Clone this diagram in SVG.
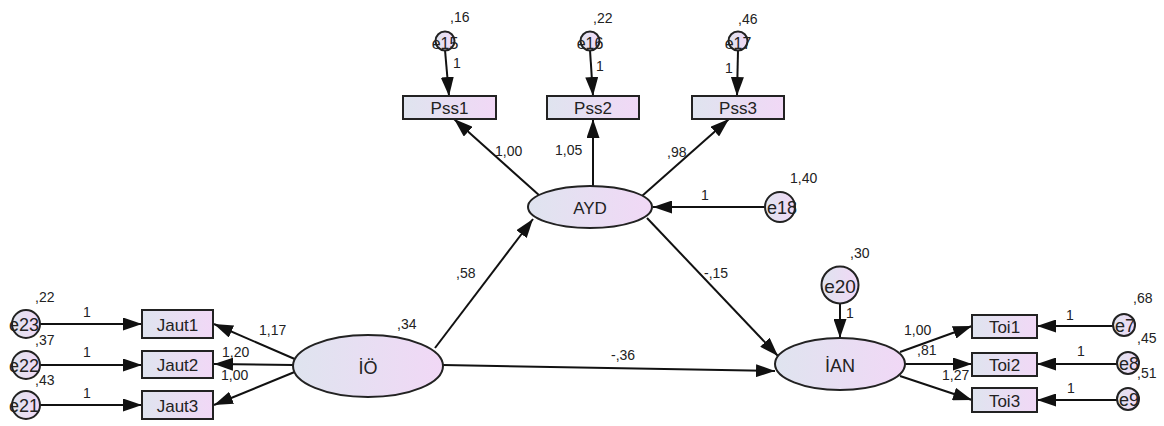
<svg xmlns="http://www.w3.org/2000/svg" width="1164" height="426" viewBox="0 0 1164 426">
<defs>
<linearGradient id="g" x1="0" y1="0" x2="1" y2="0">
<stop offset="0" stop-color="#dfe4ef"/>
<stop offset="1" stop-color="#f1d8f6"/>
</linearGradient>
<marker id="ah" markerUnits="userSpaceOnUse" markerWidth="19" markerHeight="13" refX="19" refY="6.5" orient="auto">
<path d="M0,0 L19,6.5 L0,13 z" fill="#111"/>
</marker>
</defs>
<style>
.n{fill:url(#g);stroke:#222;stroke-width:2}
.t{font-family:"Liberation Sans",Arial,sans-serif;font-size:17px;fill:#222;text-anchor:middle;dominant-baseline:central}
.et{font-family:"Liberation Sans",Arial,sans-serif;font-size:18px;fill:#222;text-anchor:middle;dominant-baseline:central}
.l{font-family:"Liberation Sans",Arial,sans-serif;font-size:14px;fill:#222}
.c line{stroke:#111;stroke-width:2;marker-end:url(#ah)}
</style>
<rect width="1164" height="426" fill="#fff"/>
<g class="c" id="connectors">
<line x1="445" y1="50" x2="449" y2="96"/>
<line x1="590" y1="50" x2="593" y2="96"/>
<line x1="738" y1="50" x2="737" y2="96"/>
<line x1="540" y1="196" x2="454" y2="119"/>
<line x1="593" y1="186" x2="593" y2="119"/>
<line x1="642" y1="196" x2="729" y2="119"/>
<line x1="765" y1="207" x2="653" y2="207"/>
<line x1="435" y1="348" x2="533" y2="219"/>
<line x1="647" y1="218" x2="778" y2="356"/>
<line x1="443" y1="365" x2="775" y2="371"/>
<line x1="840" y1="304" x2="840" y2="338"/>
<line x1="297" y1="360" x2="214" y2="324"/>
<line x1="293" y1="365" x2="214" y2="364"/>
<line x1="297" y1="371" x2="214" y2="405"/>
<line x1="40" y1="324" x2="142" y2="324"/>
<line x1="40" y1="365" x2="142" y2="365"/>
<line x1="40" y1="405" x2="142" y2="405"/>
<line x1="900" y1="352" x2="972" y2="326"/>
<line x1="905" y1="364" x2="972" y2="364"/>
<line x1="900" y1="376" x2="972" y2="400"/>
<line x1="1113" y1="326" x2="1037" y2="326"/>
<line x1="1117" y1="364" x2="1037" y2="364"/>
<line x1="1117" y1="400" x2="1037" y2="400"/>
</g>
<g id="Pss1"><rect class="n" x="403" y="96" width="93" height="23"/><text class="t" x="449.5" y="108">Pss1</text></g>
<g id="Pss2"><rect class="n" x="547" y="96" width="92" height="23"/><text class="t" x="593" y="108">Pss2</text></g>
<g id="Pss3"><rect class="n" x="692" y="96" width="92" height="23"/><text class="t" x="738" y="108">Pss3</text></g>
<g id="e15"><circle class="n" cx="445" cy="41" r="9.5"/><text class="et" x="445" y="43" style="font-size:16px">e15</text></g>
<g id="e16"><circle class="n" cx="590" cy="41" r="9.5"/><text class="et" x="590" y="43" style="font-size:16px">e16</text></g>
<g id="e17"><circle class="n" cx="738" cy="41" r="9.5"/><text class="et" x="738" y="43" style="font-size:16px">e17</text></g>
<g id="AYD"><ellipse class="n" cx="590" cy="207" rx="62" ry="21"/><text class="t" x="590" y="208">AYD</text></g>
<g id="e18"><circle class="n" cx="780" cy="207" r="15"/><text class="et" x="782" y="208">e18</text></g>
<g id="IO"><ellipse class="n" cx="368" cy="366" rx="75" ry="31"/><text class="t" x="368" y="368" style="font-size:18px">İÖ</text></g>
<g id="IAN"><ellipse class="n" cx="840" cy="364" rx="65" ry="26"/><text class="t" x="840" y="366" style="font-size:18px">İAN</text></g>
<g id="e20"><circle class="n" cx="840" cy="285" r="18.5"/><text class="et" x="840" y="286" style="font-size:19px">e20</text></g>
<g id="Jaut1"><rect class="n" x="142" y="310" width="71" height="28"/><text class="t" x="177.5" y="325">Jaut1</text></g>
<g id="Jaut2"><rect class="n" x="142" y="351" width="71" height="27"/><text class="t" x="177.5" y="365">Jaut2</text></g>
<g id="Jaut3"><rect class="n" x="142" y="391" width="71" height="28"/><text class="t" x="177.5" y="406">Jaut3</text></g>
<g id="e23"><circle class="n" cx="26" cy="324" r="14"/><text class="et" x="24" y="325">e23</text></g>
<g id="e22"><circle class="n" cx="26" cy="365" r="14"/><text class="et" x="24" y="366">e22</text></g>
<g id="e21"><circle class="n" cx="26" cy="405" r="14"/><text class="et" x="24" y="406">e21</text></g>
<g id="Toi1"><rect class="n" x="972" y="315" width="65" height="23"/><text class="t" x="1004.5" y="327">Toi1</text></g>
<g id="Toi2"><rect class="n" x="972" y="353" width="65" height="23"/><text class="t" x="1004.5" y="365">Toi2</text></g>
<g id="Toi3"><rect class="n" x="972" y="388" width="65" height="24"/><text class="t" x="1004.5" y="401">Toi3</text></g>
<g id="e7"><circle class="n" cx="1124" cy="325" r="11"/><text class="et" x="1125" y="326">e7</text></g>
<g id="e8"><circle class="n" cx="1128" cy="363" r="11"/><text class="et" x="1129" y="364">e8</text></g>
<g id="e9"><circle class="n" cx="1128" cy="399" r="11"/><text class="et" x="1129" y="400">e9</text></g>
<g id="labels">
<text class="l" x="450" y="22">,16</text>
<text class="l" x="593" y="23">,22</text>
<text class="l" x="738" y="24">,46</text>
<text class="l" x="453" y="68">1</text>
<text class="l" x="596" y="71">1</text>
<text class="l" x="725" y="73">1</text>
<text class="l" x="495" y="156">1,00</text>
<text class="l" x="555" y="155">1,05</text>
<text class="l" x="667" y="157">,98</text>
<text class="l" x="701" y="200">1</text>
<text class="l" x="790" y="183">1,40</text>
<text class="l" x="456" y="278">,58</text>
<text class="l" x="704" y="278">-,15</text>
<text class="l" x="611" y="360">-,36</text>
<text class="l" x="397" y="329">,34</text>
<text class="l" x="850" y="258">,30</text>
<text class="l" x="846" y="318">1</text>
<text class="l" x="259" y="335">1,17</text>
<text class="l" x="222" y="357">1,20</text>
<text class="l" x="221" y="380">1,00</text>
<text class="l" x="35" y="302">,22</text>
<text class="l" x="35" y="345">,37</text>
<text class="l" x="35" y="385">,43</text>
<text class="l" x="83" y="317">1</text>
<text class="l" x="83" y="357">1</text>
<text class="l" x="83" y="398">1</text>
<text class="l" x="904" y="335">1,00</text>
<text class="l" x="917" y="355">,81</text>
<text class="l" x="942" y="380">1,27</text>
<text class="l" x="1066" y="320">1</text>
<text class="l" x="1077" y="356">1</text>
<text class="l" x="1067" y="393">1</text>
<text class="l" x="1133" y="303">,68</text>
<text class="l" x="1137" y="343">,45</text>
<text class="l" x="1137" y="378">,51</text>
</g>
</svg>
